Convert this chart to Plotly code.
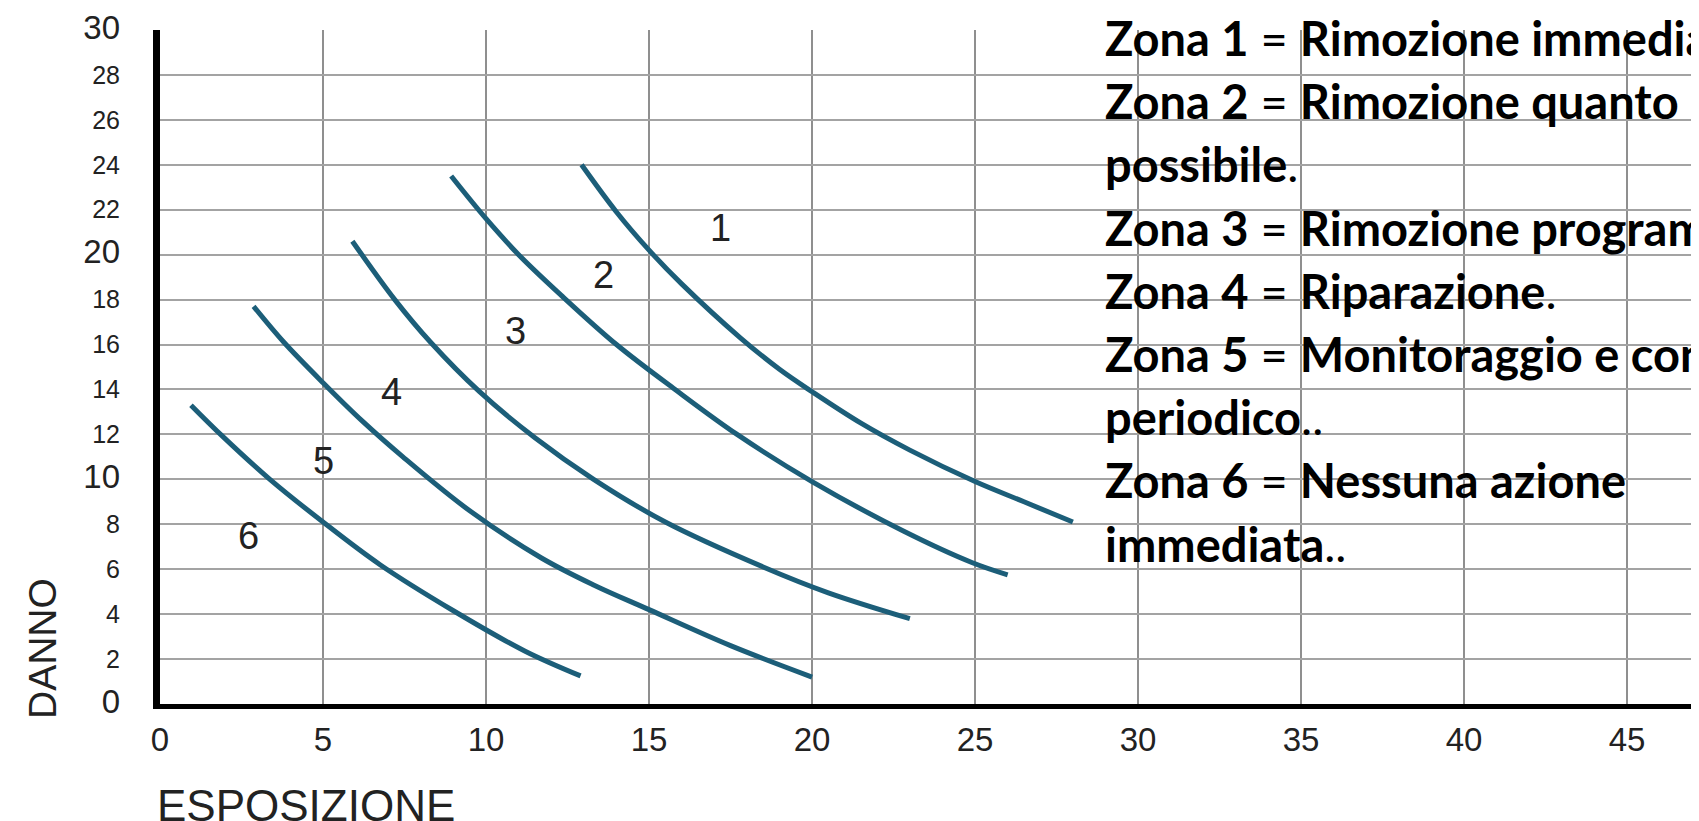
import plotly.graph_objects as go

# ---------------- data ----------------
x_ticks = [0, 5, 10, 15, 20, 25, 30, 35, 40, 45]
y_ticks = [0, 2, 4, 6, 8, 10, 12, 14, 16, 18, 20, 22, 24, 26, 28, 30]
y_major_ticks = [0, 10, 20, 30]

curve_1_x = [12.93, 14.0, 15.0, 16.0, 17.8, 19.0, 20.0, 21.5, 23.0, 25.0, 26.5, 28.0]
curve_1_y = [24.0, 21.9, 20.2, 18.7, 16.3, 14.9, 13.9, 12.5, 11.3, 9.9, 9.0, 8.1]

curve_2_x = [8.93, 10.0, 11.0, 12.3, 14.0, 15.8, 17.7, 20.0, 22.8, 24.9, 26.0]
curve_2_y = [23.5, 21.6, 20.0, 18.2, 16.0, 14.0, 12.0, 9.9, 7.7, 6.3, 5.75]

curve_3_x = [5.9, 7.2, 8.3, 9.8, 11.5, 13.3, 15.5, 18.5, 20.5, 23.0]
curve_3_y = [20.6, 18.0, 16.1, 13.9, 11.85, 10.0, 8.1, 6.1, 4.95, 3.8]

curve_4_x = [2.87, 3.8, 5.0, 6.2, 7.45, 9.5, 11.7, 13.3, 15.0, 17.5, 20.0]
curve_4_y = [17.7, 16.1, 14.3, 12.6, 11.0, 8.6, 6.5, 5.3, 4.2, 2.6, 1.2]

curve_5_x = [0.95, 1.93, 3.37, 5.0, 6.75, 9.0, 11.2, 12.9]
curve_5_y = [13.3, 11.9, 10.0, 8.1, 6.2, 4.15, 2.35, 1.25]

zone_labels = ["1", "2", "3", "4", "5", "6"]
zone_label_x = [17.2, 13.6, 10.9, 7.1, 5.0, 2.7]
zone_label_y = [21.2, 19.1, 16.6, 13.9, 10.8, 7.5]

legend_lines = [
    "<b>Zona 1</b> = <b>Rimozione immediata</b>.",
    "<b>Zona 2</b> = <b>Rimozione quanto prima</b>",
    "<b>possibile</b>.",
    "<b>Zona 3</b> = <b>Rimozione programmata</b>.",
    "<b>Zona 4</b> = <b>Riparazione</b>.",
    "<b>Zona 5</b> = <b>Monitoraggio e controllo</b>",
    "<b>periodico</b>..",
    "<b>Zona 6</b> = <b>Nessuna azione</b>",
    "<b>immediata</b>..",
]

x_title = "ESPOSIZIONE"
y_title = "DANNO"

# ---------------- styling ----------------
W, H = 1699, 821
M_L, M_R, M_T, M_B = 152, 0, 22, 125
PLOT_W = W - M_L - M_R
PLOT_H = H - M_T - M_B
X_MAX = 47.45
CURVE_COLOR = "#1c5e79"
AXIS_FONT = "Liberation Sans, Arial, sans-serif"
TEXT_FONT = "Lato, Carlito, sans-serif"


def px_to_paper_y(py):
    return (H - M_B - py) / PLOT_H


def px_to_paper_x(px):
    return (px - M_L) / PLOT_W


fig = go.Figure()
for xs, ys in [(curve_1_x, curve_1_y), (curve_2_x, curve_2_y), (curve_3_x, curve_3_y),
               (curve_4_x, curve_4_y), (curve_5_x, curve_5_y)]:
    fig.add_trace(go.Scatter(
        x=xs, y=ys, mode="lines",
        line=dict(color=CURVE_COLOR, width=5, shape="spline", smoothing=1.0),
        hoverinfo="skip", showlegend=False,
    ))

y_ticktext = [
    (f'<span style="font-size:33px">{v}</span>' if v in y_major_ticks else str(v))
    for v in y_ticks
]

annotations = []
for t, x, y in zip(zone_labels, zone_label_x, zone_label_y):
    annotations.append(dict(x=x, y=y, xref="x", yref="y", text=t, showarrow=False,
                            font=dict(family=AXIS_FONT, size=38, color="#222")))

TEXT_LEFT_PX = 1095
TEXT_TOP_PX = 30
LINE_STEP_PX = 63.2
for i, line in enumerate(legend_lines):
    annotations.append(dict(
        x=px_to_paper_x(TEXT_LEFT_PX), xref="paper", xanchor="left",
        y=px_to_paper_y(TEXT_TOP_PX + i * LINE_STEP_PX), yref="paper", yanchor="middle",
        text=line, showarrow=False, align="left",
        font=dict(family=TEXT_FONT, size=47, color="#000"),
    ))

annotations.append(dict(
    x=px_to_paper_x(M_L - 5), xref="paper", xanchor="left",
    y=px_to_paper_y(797), yref="paper", yanchor="middle",
    text=x_title, showarrow=False, font=dict(family=AXIS_FONT, size=44, color="#222"),
))
annotations.append(dict(
    x=px_to_paper_x(34), xref="paper", xanchor="center",
    y=px_to_paper_y(640), yref="paper", yanchor="middle",
    text=y_title, textangle=-90, showarrow=False,
    font=dict(family=AXIS_FONT, size=39, color="#222"),
))

fig.update_layout(
    width=W, height=H,
    margin=dict(l=M_L, r=M_R, t=M_T, b=M_B),
    paper_bgcolor="white", plot_bgcolor="white",
    showlegend=False,
    annotations=annotations,
    xaxis=dict(
        range=[0, X_MAX], tickmode="array", tickvals=x_ticks, ticktext=[str(v) for v in x_ticks],
        showgrid=True, gridcolor="#8f8f8f", gridwidth=2,
        showline=True, linecolor="black", linewidth=5, zeroline=False, ticks="",
        tickfont=dict(family=AXIS_FONT, size=33, color="#222"), ticklabelstandoff=2,
        fixedrange=True,
    ),
    yaxis=dict(
        range=[0, 30], tickmode="array", tickvals=y_ticks, ticktext=y_ticktext,
        showgrid=True, gridcolor="#a3a3a3", gridwidth=2,
        showline=True, linecolor="black", linewidth=7, zeroline=False, ticks="",
        tickfont=dict(family=AXIS_FONT, size=25, color="#222"), ticklabelstandoff=28,
        fixedrange=True,
    ),
)

fig.write_html("out.html")
